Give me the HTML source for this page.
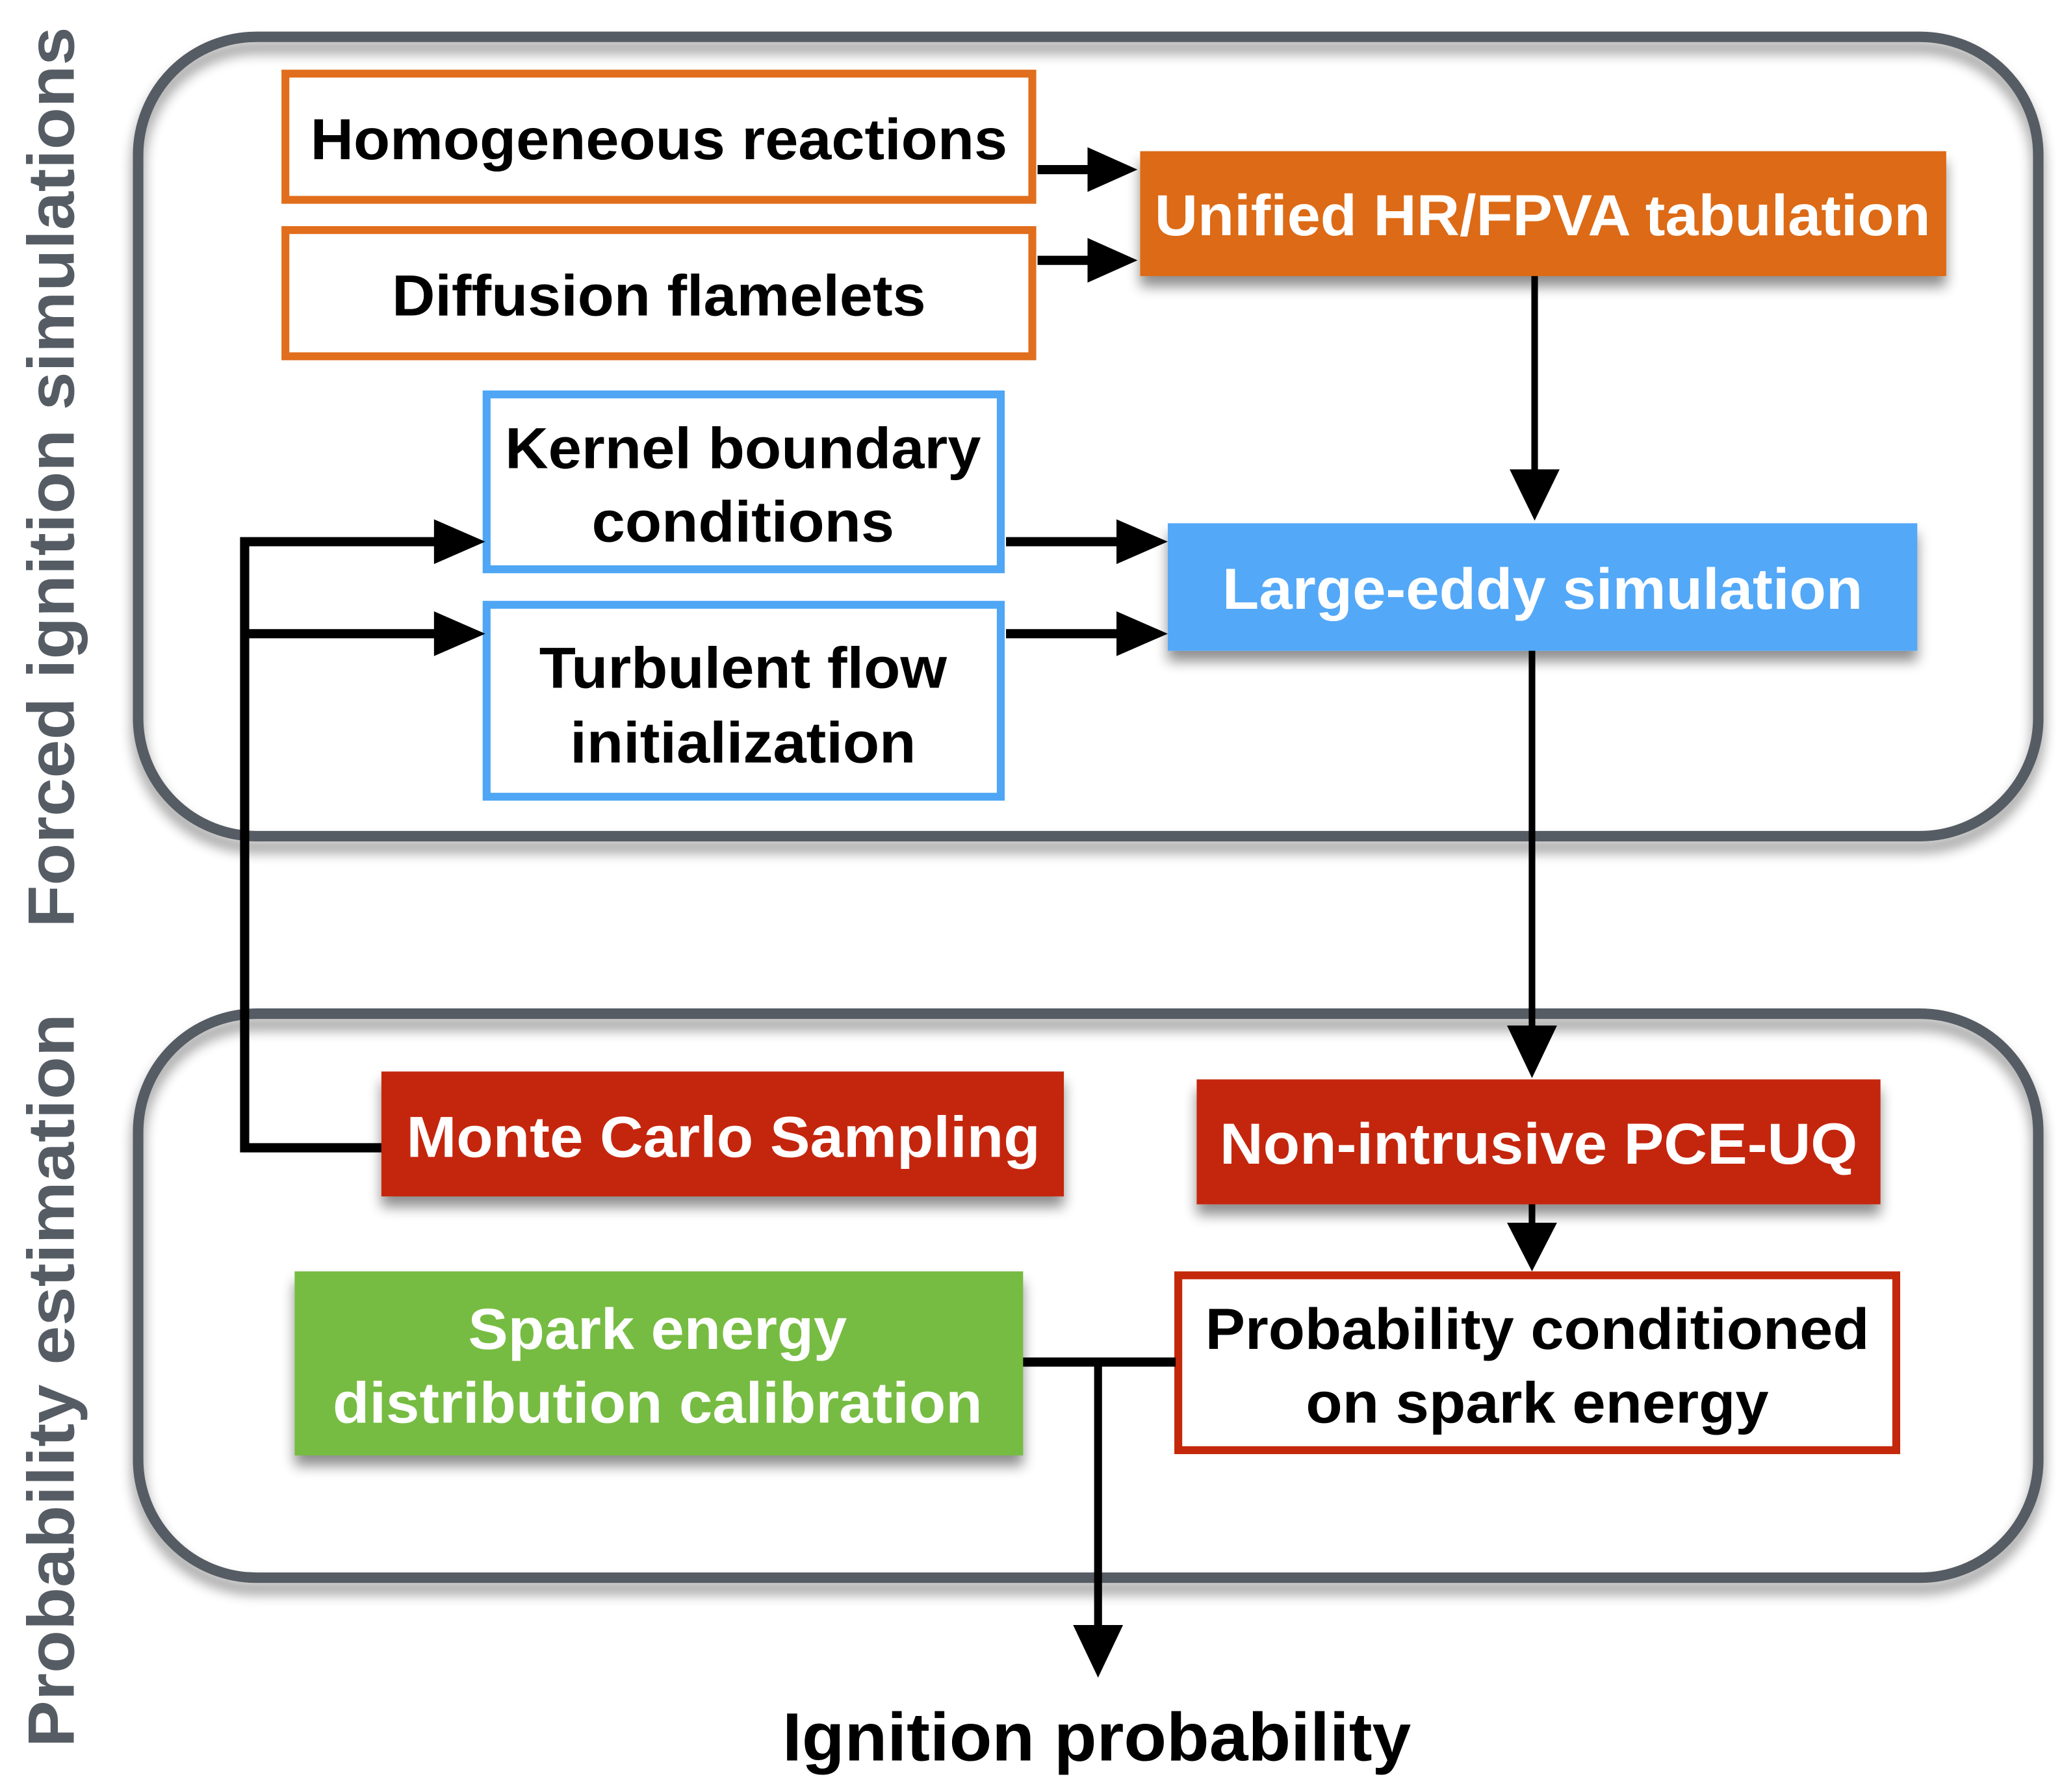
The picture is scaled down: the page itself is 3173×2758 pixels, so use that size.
<!DOCTYPE html>
<html><head><meta charset="utf-8"><style>html,body{margin:0;padding:0;background:#fff}svg{display:block}</style></head>
<body>
<svg width="3173" height="2758" viewBox="0 0 1568 1363" xmlns="http://www.w3.org/2000/svg" font-family="Liberation Sans, Arial, sans-serif" font-weight="bold">
<defs>
<filter id="sh" x="-10%" y="-20%" width="120%" height="160%"><feGaussianBlur in="SourceAlpha" stdDeviation="5"/><feOffset dx="0" dy="8"/><feComponentTransfer><feFuncA type="linear" slope="0.45"/></feComponentTransfer><feMerge><feMergeNode/><feMergeNode in="SourceGraphic"/></feMerge></filter>
<marker id="ah" markerWidth="10" markerHeight="10" refX="9" refY="5" orient="auto" markerUnits="userSpaceOnUse" viewBox="0 0 10 10"><path d="M0,0 L10,5 L0,10 z" fill="#000"/></marker>
</defs>
<!-- panels -->
<rect x="105" y="28" width="1445" height="608" rx="90" fill="none" stroke="#565c64" stroke-width="8" filter="url(#sh)"/>
<rect x="105" y="771" width="1445" height="429" rx="90" fill="none" stroke="#565c64" stroke-width="8" filter="url(#sh)"/>
<!-- side labels -->
<text transform="translate(56,363) rotate(-90)" text-anchor="middle" font-size="50" fill="#565c64" textLength="685" lengthAdjust="spacingAndGlyphs">Forced ignition simulations</text>
<text transform="translate(56,1050) rotate(-90)" text-anchor="middle" font-size="50" fill="#565c64" textLength="558" lengthAdjust="spacingAndGlyphs">Probability estimation</text>
<!-- orange boxes -->
<rect x="217" y="56" width="568" height="96" fill="#fff" stroke="#e06e1c" stroke-width="6"/>
<text x="501" y="121" text-anchor="middle" font-size="44" textLength="530" lengthAdjust="spacingAndGlyphs">Homogeneous reactions</text>
<rect x="217" y="175" width="568" height="96" fill="#fff" stroke="#e06e1c" stroke-width="6"/>
<text x="501" y="240" text-anchor="middle" font-size="44" textLength="406" lengthAdjust="spacingAndGlyphs">Diffusion flamelets</text>
<rect x="867" y="115" width="613" height="95" fill="#dc6a14" filter="url(#sh)"/>
<text x="1173" y="179" text-anchor="middle" font-size="44" fill="#fff" textLength="590" lengthAdjust="spacingAndGlyphs">Unified HR/FPVA tabulation</text>
<!-- blue boxes -->
<rect x="370" y="300" width="391" height="133" fill="#fff" stroke="#4ea6f5" stroke-width="6"/>
<text x="565" y="356" text-anchor="middle" font-size="44" textLength="362" lengthAdjust="spacingAndGlyphs">Kernel boundary</text>
<text x="565" y="412" text-anchor="middle" font-size="44" textLength="230" lengthAdjust="spacingAndGlyphs">conditions</text>
<rect x="370" y="460" width="391" height="146" fill="#fff" stroke="#4ea6f5" stroke-width="6"/>
<text x="565" y="523" text-anchor="middle" font-size="44" textLength="310" lengthAdjust="spacingAndGlyphs">Turbulent flow</text>
<text x="565" y="580" text-anchor="middle" font-size="44" textLength="263" lengthAdjust="spacingAndGlyphs">initialization</text>
<rect x="888" y="398" width="570" height="97" fill="#52a8f8" filter="url(#sh)"/>
<text x="1173" y="463" text-anchor="middle" font-size="44" fill="#fff" textLength="487" lengthAdjust="spacingAndGlyphs">Large-eddy simulation</text>
<!-- red boxes -->
<rect x="290" y="815" width="519" height="95" fill="#c4280a" filter="url(#sh)"/>
<text x="550" y="880" text-anchor="middle" font-size="44" fill="#fff" textLength="482" lengthAdjust="spacingAndGlyphs">Monte Carlo Sampling</text>
<rect x="910" y="821" width="520" height="95" fill="#c4280a" filter="url(#sh)"/>
<text x="1170" y="885" text-anchor="middle" font-size="44" fill="#fff" textLength="485" lengthAdjust="spacingAndGlyphs">Non-intrusive PCE-UQ</text>
<rect x="896" y="970" width="546" height="133" fill="#fff" stroke="#c4280a" stroke-width="6"/>
<text x="1169" y="1026" text-anchor="middle" font-size="44" textLength="505" lengthAdjust="spacingAndGlyphs">Probability conditioned</text>
<text x="1169" y="1082" text-anchor="middle" font-size="44" textLength="352" lengthAdjust="spacingAndGlyphs">on spark energy</text>
<!-- green -->
<rect x="224" y="967" width="554" height="140" fill="#76bc43" filter="url(#sh)"/>
<text x="500" y="1026" text-anchor="middle" font-size="44" fill="#fff" textLength="288" lengthAdjust="spacingAndGlyphs">Spark energy</text>
<text x="500" y="1082" text-anchor="middle" font-size="44" fill="#fff" textLength="494" lengthAdjust="spacingAndGlyphs">distribution calibration</text>
<!-- connectors -->
<g stroke="#000" stroke-width="7" fill="none">
<line x1="789" y1="129" x2="830" y2="129"/>
<line x1="789" y1="198" x2="830" y2="198"/>
<line x1="765" y1="412" x2="852" y2="412"/>
<line x1="765" y1="482" x2="852" y2="482"/>
<polyline points="290,873 186,873 186,412 332,412"/>
<line x1="186" y1="482" x2="332" y2="482"/>
<line x1="1167" y1="210" x2="1167" y2="362" stroke-width="5"/>
<line x1="1165" y1="495" x2="1165" y2="785" stroke-width="5"/>
<line x1="1165" y1="916" x2="1165" y2="935" stroke-width="5"/>
<line x1="778" y1="1036" x2="894" y2="1036"/>
<line x1="835" y1="1036" x2="835" y2="1240" stroke-width="6"/>
</g>
<g fill="#000">
<path d="M827,112 L865,129 L827,146z"/>
<path d="M827,181 L865,198 L827,215z"/>
<path d="M849,395 L888,412 L849,429z"/>
<path d="M849,465 L888,482 L849,499z"/>
<path d="M330,395 L369,412 L330,429z"/>
<path d="M330,465 L369,482 L330,499z"/>
<path d="M1148,357 L1167,396 L1186,357z"/>
<path d="M1146,780 L1165,820 L1184,780z"/>
<path d="M1146,930 L1165,967 L1184,930z"/>
<path d="M816,1236 L835,1276 L854,1236z"/>
</g>
<text x="834" y="1339" text-anchor="middle" font-size="52" textLength="478" lengthAdjust="spacingAndGlyphs">Ignition probability</text>
</svg>
</body></html>
